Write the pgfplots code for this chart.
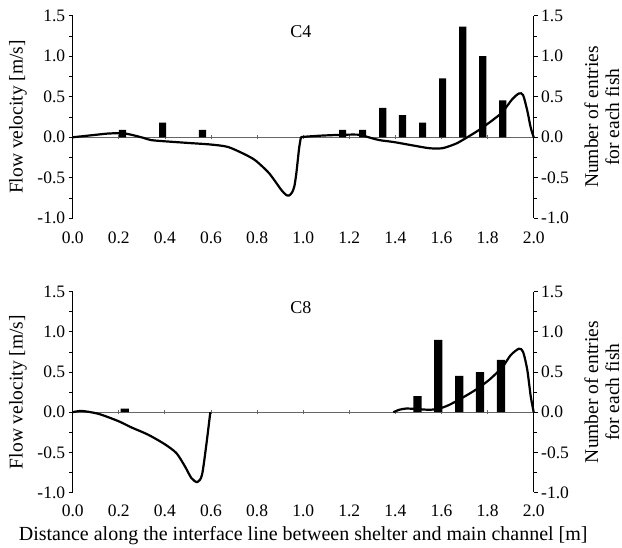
\documentclass[border=0pt]{standalone}
\usepackage{fontspec}
\setmainfont{Liberation Serif}
\usepackage{pgfplots}
\pgfplotsset{compat=1.18}
\pgfplotsset{
  base/.style={
    scale only axis, width=461pt,
    xmin=0, xmax=2, ymin=-1, ymax=1.5,
    clip=false,
    /pgf/number format/assume math mode=true,
    /pgf/number format/fixed,
    /pgf/number format/fixed zerofill,
    /pgf/number format/precision=1,
    tick label style={font=\fontsize{17.5}{20}\selectfont},
    ytick={-1,-0.5,0,0.5,1,1.5},
    minor ytick={-0.75,-0.25,0.25,0.75,1.25},
    major tick length=4pt, minor tick length=3.5pt,
    tick align=outside,
    axis line style={line width=0.8pt},
    tick style={line width=0.8pt, black},
  },
  leftax/.style={base, axis y line*=left, axis x line=none,
    every axis y label/.style={at={(axis description cs:-0.1187,0.5)}, rotate=90, anchor=center, font=\fontsize{19.5}{22}\selectfont}},
  rightax/.style={base, axis y line*=right, axis x line=none,
    every axis y label/.style={at={(axis description cs:1.148,0.5)}, rotate=90, anchor=center, align=center, font=\fontsize{19.5}{21}\selectfont}},
  midax/.style={base, axis y line=none, axis x line=middle, hide obscured x ticks=false,
    xtick={0,0.2,0.4,0.6,0.8,1,1.2,1.4,1.6,1.8,2},
    x axis line style={-, draw=gray!80!black, line width=0.8pt},
    tick style={gray!80!black, line width=0.8pt}},
  curve/.style={black, line width=2.2pt, smooth, tension=0.45},
}
\begin{document}
\begin{tikzpicture}
\path[use as bounding box] (0,0) rectangle (622pt,547pt);

% ---------------- Top panel (C4) ----------------
\begin{axis}[midax, at={(72.7pt,328.7pt)}, anchor=south west, height=202.6pt,
  xticklabel style={yshift=-89pt}]
\end{axis}
\begin{axis}[rightax, at={(72.7pt,328.7pt)}, anchor=south west, height=202.6pt,
  ylabel={Number of entries\\for each fish}]
\addplot[ybar, bar width=0.031, fill=black, draw=none] coordinates {
(0.216,0.091) (0.390,0.182) (0.563,0.091) (1.171,0.091) (1.258,0.091) (1.345,0.364)
(1.431,0.273) (1.518,0.182) (1.605,0.727) (1.692,1.364) (1.779,1.0) (1.866,0.455)};
\end{axis}
\begin{axis}[leftax, at={(72.7pt,328.7pt)}, anchor=south west, height=202.6pt,
  ylabel={Flow velocity [m/s]}]
\addplot[curve] coordinates {
(0,0) (0.05,0.015) (0.1,0.03) (0.15,0.045) (0.197,0.05) (0.23,0.045) (0.27,0.02)
(0.31,-0.01) (0.34,-0.035) (0.40,-0.05) (0.50,-0.07) (0.60,-0.09) (0.674,-0.12)
(0.746,-0.21) (0.79,-0.28) (0.83,-0.38) (0.854,-0.45) (0.88,-0.55) (0.905,-0.65)
(0.925,-0.71) (0.938,-0.72) (0.952,-0.68) (0.962,-0.60) (0.97,-0.45) (0.977,-0.27)
(0.983,-0.12) (0.99,0)};
\addplot[curve] coordinates {
(0.99,0) (1.0,0.005) (1.078,0.02) (1.164,0.03) (1.22,0.033) (1.25,0.028) (1.29,-0.005)
(1.33,-0.035) (1.395,-0.06) (1.474,-0.10) (1.547,-0.135) (1.604,-0.135) (1.662,-0.08)
(1.706,-0.01) (1.763,0.09) (1.821,0.21) (1.864,0.31) (1.907,0.47) (1.936,0.54)
(1.954,0.52) (1.972,0.33) (1.987,0.12) (2.0,0)};
\node[font=\fontsize{18}{20}\selectfont] at (axis cs:0.99,1.30) {C4};
\end{axis}

% ---------------- Bottom panel (C8) ----------------
\begin{axis}[midax, at={(72.7pt,54.5pt)}, anchor=south west, height=200.8pt,
  xticklabel style={yshift=-87pt},
  xlabel={Distance along the interface line between shelter and main channel [m]},
  every axis x label/.style={at={(axis description cs:0.5,-0.2415)}, anchor=base, font=\fontsize{20}{23}\selectfont}]
\end{axis}
\begin{axis}[rightax, at={(72.7pt,54.5pt)}, anchor=south west, height=200.8pt,
  ylabel={Number of entries\\for each fish}]
\addplot[ybar, bar width=0.036, fill=black, draw=none] coordinates {
(0.226,0.045) (1.496,0.2) (1.586,0.9) (1.677,0.453) (1.767,0.5) (1.858,0.65)};
\end{axis}
\begin{axis}[leftax, at={(72.7pt,54.5pt)}, anchor=south west, height=200.8pt,
  ylabel={Flow velocity [m/s]}]
\addplot[curve] coordinates {
(0,0) (0.04,0.015) (0.111,-0.02) (0.197,-0.11) (0.255,-0.19) (0.327,-0.28)
(0.40,-0.40) (0.45,-0.51) (0.486,-0.67) (0.515,-0.82) (0.541,-0.87) (0.561,-0.78)
(0.58,-0.40) (0.597,0)};
\addplot[curve] coordinates {
(1.391,0) (1.417,0.03) (1.446,0.045) (1.489,0.04) (1.547,0.03) (1.59,0.045)
(1.633,0.09) (1.691,0.18) (1.749,0.28) (1.806,0.40) (1.864,0.56) (1.90,0.71)
(1.936,0.79) (1.954,0.75) (1.972,0.53) (1.987,0.20) (2.0,0)};
\node[font=\fontsize{18}{20}\selectfont] at (axis cs:0.99,1.30) {C8};
\end{axis}
\end{tikzpicture}
\end{document}
